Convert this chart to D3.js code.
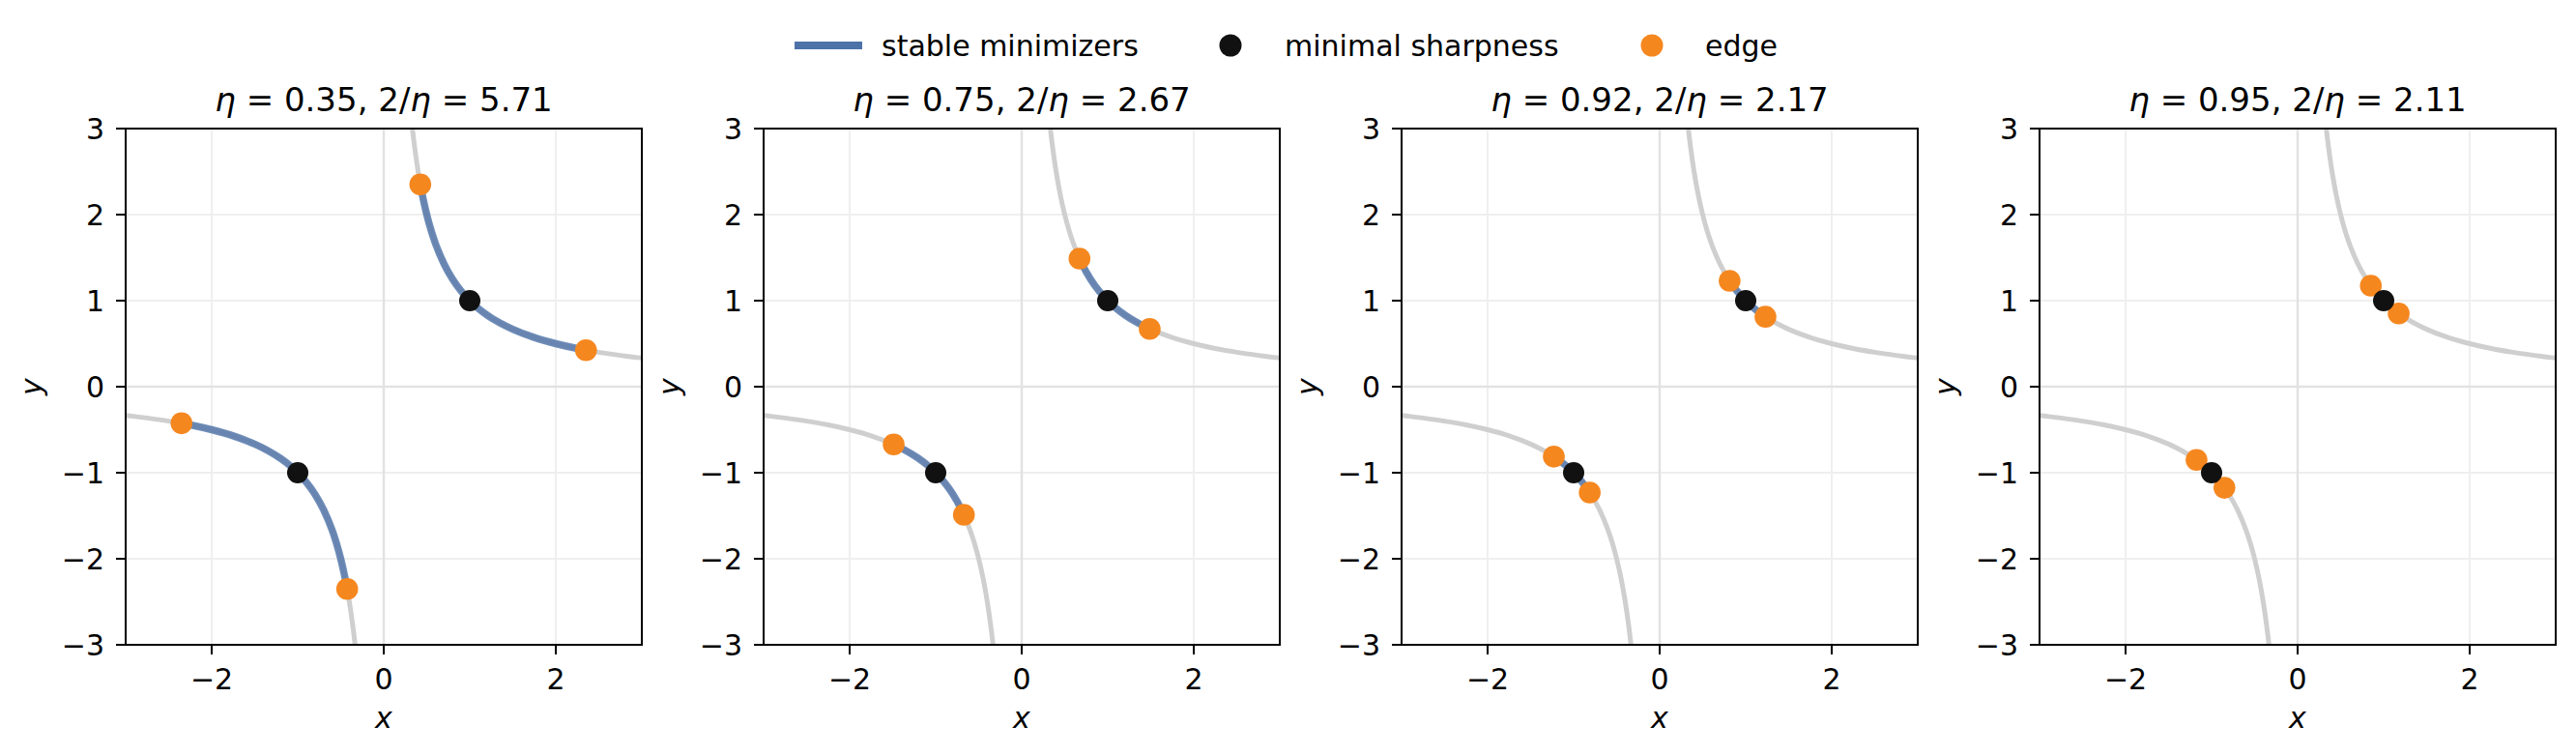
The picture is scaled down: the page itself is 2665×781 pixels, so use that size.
<!DOCTYPE html>
<html><head><meta charset="utf-8">
<script src="https://cdn.jsdelivr.net/npm/d3@7"></script>
<style>body{margin:0;background:#fff;} svg{display:block;font-family:"DejaVu Sans",sans-serif;}</style>
</head><body>
<svg id="c" width="2665" height="781"></svg>
<script>
// ---- data ----
const etas = ["0.35", "0.75", "0.92", "0.95"];
const twoOverEta = ["5.71", "2.67", "2.17", "2.11"];
// edge points on xy=1 (near-axis x and far x of the positive branch)
const edgeNear = [0.425, 0.672, 0.813, 0.851];
const edgeFar = [2.351, 1.488, 1.230, 1.175];
// minimal sharpness points
const minX = [1, -1];
const minY = [1, -1];
// sampled points of the curve xy = 1 (positive branch)
const posX = [0.30, 0.333, 0.36, 0.40, 0.45, 0.50, 0.55, 0.60, 0.70, 0.80, 0.90, 1.0, 1.1, 1.2, 1.35, 1.5, 1.75, 2.0, 2.25, 2.5, 2.75, 3.0, 3.1];
const posY = [3.333, 3.0, 2.778, 2.5, 2.222, 2.0, 1.818, 1.667, 1.429, 1.25, 1.111, 1.0, 0.909, 0.833, 0.741, 0.667, 0.571, 0.5, 0.444, 0.4, 0.364, 0.333, 0.323];
// negative branch
const negX = [-3.1, -3.0, -2.75, -2.5, -2.25, -2.0, -1.75, -1.5, -1.35, -1.2, -1.1, -1.0, -0.90, -0.80, -0.70, -0.60, -0.55, -0.50, -0.45, -0.40, -0.36, -0.333, -0.30];
const negY = [-0.323, -0.333, -0.364, -0.4, -0.444, -0.5, -0.571, -0.667, -0.741, -0.833, -0.909, -1.0, -1.111, -1.25, -1.429, -1.667, -1.818, -2.0, -2.222, -2.5, -2.778, -3.0, -3.333];
const xTicks = [-2, 0, 2];
const yTicks = [-3, -2, -1, 0, 1, 2, 3];
const legendLabels = ["stable minimizers", "minimal sharpness", "edge"];

// ---- style ----
const C_BLUE = "#4c72a8", C_GRAY = "#cfcfcf", C_ORANGE = "#f5871f", C_BLACK = "#111111";
const FS = 30, FS_T = 34;
const svg = d3.select("#c");
const panelLefts = [130, 790, 1450, 2110];
const topY = 133, size = 534;

const minus = s => String(s).replace("-", "\u2212");

etas.forEach((eta, i) => {
  const L = panelLefts[i];
  const x = d3.scaleLinear().domain([-3, 3]).range([L, L + size]);
  const y = d3.scaleLinear().domain([-3, 3]).range([topY + size, topY]);
  const g = svg.append("g");
  const cid = "clip" + i;
  g.append("clipPath").attr("id", cid).append("rect")
    .attr("x", L).attr("y", topY).attr("width", size).attr("height", size);

  // grid
  g.selectAll(".gx").data(xTicks).join("line")
    .attr("x1", d => x(d)).attr("x2", d => x(d)).attr("y1", topY).attr("y2", topY + size)
    .attr("stroke", "#efefef").attr("stroke-width", 2);
  g.selectAll(".gy").data(yTicks).join("line")
    .attr("y1", d => y(d)).attr("y2", d => y(d)).attr("x1", L).attr("x2", L + size)
    .attr("stroke", "#efefef").attr("stroke-width", 2);
  // zero lines
  g.append("line").attr("x1", x(0)).attr("x2", x(0)).attr("y1", topY).attr("y2", topY + size)
    .attr("stroke", "#e2e2e2").attr("stroke-width", 2.5);
  g.append("line").attr("y1", y(0)).attr("y2", y(0)).attr("x1", L).attr("x2", L + size)
    .attr("stroke", "#e2e2e2").attr("stroke-width", 2.5);

  const line = d3.line().x(d => x(d[0])).y(d => y(d[1])).curve(d3.curveMonotoneX);
  const pos = posX.map((v, k) => [v, posY[k]]);
  const neg = negX.map((v, k) => [v, negY[k]]);
  const plot = g.append("g").attr("clip-path", `url(#${cid})`);
  [pos, neg].forEach(br => plot.append("path").attr("d", line(br))
    .attr("fill", "none").attr("stroke", C_GRAY).attr("stroke-width", 5));

  // stable segments
  const lo = edgeNear[i], hi = edgeFar[i];
  const segPos = [[lo, hi]].concat(pos.filter(p => p[0] > lo && p[0] < hi)).concat([[hi, lo]]);
  const segNeg = [[-hi, -lo]].concat(neg.filter(p => p[0] > -hi && p[0] < -lo)).concat([[-lo, -hi]]);
  [segPos, segNeg].forEach(s => plot.append("path").attr("d", line(s))
    .attr("fill", "none").attr("stroke", C_BLUE).attr("stroke-opacity", 0.8).attr("stroke-width", 7.5));

  // edges
  const edges = [[lo, hi], [hi, lo], [-hi, -lo], [-lo, -hi]];
  plot.selectAll(".e").data(edges).join("circle")
    .attr("cx", d => x(d[0])).attr("cy", d => y(d[1])).attr("r", 11.3).attr("fill", C_ORANGE);
  plot.selectAll(".m").data(minX).join("circle")
    .attr("cx", (d) => x(d)).attr("cy", (d, k) => y(minY[k])).attr("r", 11).attr("fill", C_BLACK);

  // frame
  g.append("rect").attr("x", L).attr("y", topY).attr("width", size).attr("height", size)
    .attr("fill", "none").attr("stroke", "#000").attr("stroke-width", 2);

  // ticks
  g.selectAll(".xt").data(xTicks).join("line")
    .attr("x1", d => x(d)).attr("x2", d => x(d)).attr("y1", topY + size).attr("y2", topY + size + 10)
    .attr("stroke", "#000").attr("stroke-width", 2);
  g.selectAll(".xl").data(xTicks).join("text")
    .attr("x", d => x(d)).attr("y", topY + size + 46).attr("text-anchor", "middle")
    .attr("font-size", FS).text(d => minus(d));
  g.selectAll(".yt").data(yTicks).join("line")
    .attr("y1", d => y(d)).attr("y2", d => y(d)).attr("x1", L - 10).attr("x2", L)
    .attr("stroke", "#000").attr("stroke-width", 2);
  g.selectAll(".yl").data(yTicks).join("text")
    .attr("x", L - 22).attr("y", d => y(d) + 11).attr("text-anchor", "end")
    .attr("font-size", FS).text(d => minus(d));

  // axis labels
  g.append("text").attr("x", L + size / 2).attr("y", 753).attr("text-anchor", "middle")
    .attr("font-size", FS).attr("font-style", "italic").text("x");
  g.append("text").attr("transform", `translate(${L - 87},${topY + size / 2}) rotate(-90)`)
    .attr("text-anchor", "middle").attr("font-size", FS).attr("font-style", "italic").text("y");

  // title
  const t = g.append("text").attr("x", L + size / 2).attr("y", 115).attr("text-anchor", "middle")
    .attr("font-size", FS_T);
  t.append("tspan").attr("font-style", "italic").text("η");
  t.append("tspan").text(" = " + eta + ", 2/");
  t.append("tspan").attr("font-style", "italic").text("η");
  t.append("tspan").text(" = " + twoOverEta[i]);
});

// legend
const lg = svg.append("g");
lg.append("line").attr("x1", 822).attr("x2", 892).attr("y1", 47).attr("y2", 47)
  .attr("stroke", C_BLUE).attr("stroke-width", 8);
lg.append("text").attr("x", 912).attr("y", 58).attr("font-size", FS).text(legendLabels[0]);
lg.append("circle").attr("cx", 1273).attr("cy", 47).attr("r", 11.5).attr("fill", C_BLACK);
lg.append("text").attr("x", 1329).attr("y", 58).attr("font-size", FS).text(legendLabels[1]);
lg.append("circle").attr("cx", 1709).attr("cy", 47).attr("r", 11.5).attr("fill", C_ORANGE);
lg.append("text").attr("x", 1764).attr("y", 58).attr("font-size", FS).text(legendLabels[2]);
</script>
</body></html>
